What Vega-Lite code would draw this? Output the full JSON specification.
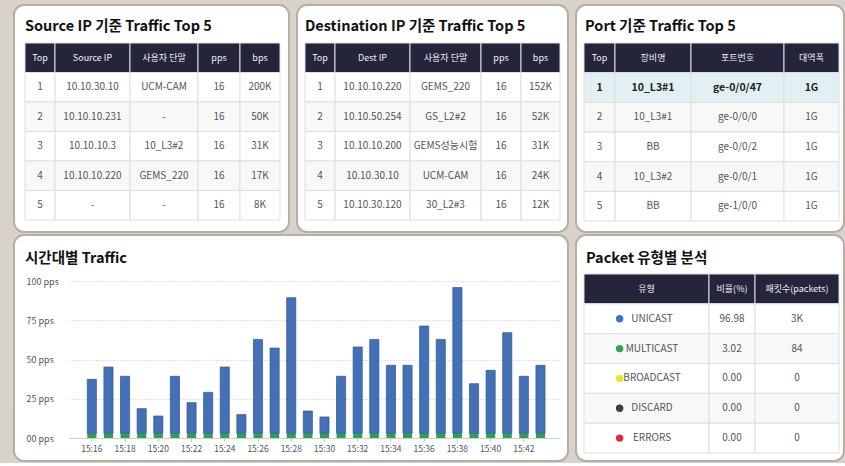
{
"$schema": "https://vega.github.io/schema/vega-lite/v6.json",
"background": "#d9d2cb",
"padding": {"left": 13, "top": 4, "right": 1, "bottom": 1},
"config": {
  "font": "Noto Sans CJK KR",
  "view": {"fill": "white", "stroke": "#b7aea4", "strokeWidth": 2, "cornerRadius": 10},
  "title": {"anchor": "start", "fontSize": 14.5, "fontWeight": "bold", "color": "#111111", "offset": -29, "baseline": "alphabetic", "frame": "group"}
},
"datasets": {
  "src": [
    {"r":"h","c":1,"t":"Top"},{"r":"h","c":2,"t":"Source IP"},{"r":"h","c":3,"t":"사용자 단말"},{"r":"h","c":4,"t":"pps"},{"r":"h","c":5,"t":"bps"},
    {"r":"1","c":1,"t":"1"},{"r":"1","c":2,"t":"10.10.30.10"},{"r":"1","c":3,"t":"UCM-CAM"},{"r":"1","c":4,"t":"16"},{"r":"1","c":5,"t":"200K"},
    {"r":"2","c":1,"t":"2"},{"r":"2","c":2,"t":"10.10.10.231"},{"r":"2","c":3,"t":"-"},{"r":"2","c":4,"t":"16"},{"r":"2","c":5,"t":"50K"},
    {"r":"3","c":1,"t":"3"},{"r":"3","c":2,"t":"10.10.10.3"},{"r":"3","c":3,"t":"10_L3#2"},{"r":"3","c":4,"t":"16"},{"r":"3","c":5,"t":"31K"},
    {"r":"4","c":1,"t":"4"},{"r":"4","c":2,"t":"10.10.10.220"},{"r":"4","c":3,"t":"GEMS_220"},{"r":"4","c":4,"t":"16"},{"r":"4","c":5,"t":"17K"},
    {"r":"5","c":1,"t":"5"},{"r":"5","c":2,"t":"-"},{"r":"5","c":3,"t":"-"},{"r":"5","c":4,"t":"16"},{"r":"5","c":5,"t":"8K"}
  ],
  "dst": [
    {"r":"h","c":1,"t":"Top"},{"r":"h","c":2,"t":"Dest IP"},{"r":"h","c":3,"t":"사용자 단말"},{"r":"h","c":4,"t":"pps"},{"r":"h","c":5,"t":"bps"},
    {"r":"1","c":1,"t":"1"},{"r":"1","c":2,"t":"10.10.10.220"},{"r":"1","c":3,"t":"GEMS_220"},{"r":"1","c":4,"t":"16"},{"r":"1","c":5,"t":"152K"},
    {"r":"2","c":1,"t":"2"},{"r":"2","c":2,"t":"10.10.50.254"},{"r":"2","c":3,"t":"GS_L2#2"},{"r":"2","c":4,"t":"16"},{"r":"2","c":5,"t":"52K"},
    {"r":"3","c":1,"t":"3"},{"r":"3","c":2,"t":"10.10.10.200"},{"r":"3","c":3,"t":"GEMS성능시험"},{"r":"3","c":4,"t":"16"},{"r":"3","c":5,"t":"31K"},
    {"r":"4","c":1,"t":"4"},{"r":"4","c":2,"t":"10.10.30.10"},{"r":"4","c":3,"t":"UCM-CAM"},{"r":"4","c":4,"t":"16"},{"r":"4","c":5,"t":"24K"},
    {"r":"5","c":1,"t":"5"},{"r":"5","c":2,"t":"10.10.30.120"},{"r":"5","c":3,"t":"30_L2#3"},{"r":"5","c":4,"t":"16"},{"r":"5","c":5,"t":"12K"}
  ],
  "port": [
    {"r":"h","c":1,"t":"Top"},{"r":"h","c":2,"t":"장비명"},{"r":"h","c":3,"t":"포트번호"},{"r":"h","c":4,"t":"대역폭"},
    {"r":"1","c":1,"t":"1"},{"r":"1","c":2,"t":"10_L3#1"},{"r":"1","c":3,"t":"ge-0/0/47"},{"r":"1","c":4,"t":"1G"},
    {"r":"2","c":1,"t":"2"},{"r":"2","c":2,"t":"10_L3#1"},{"r":"2","c":3,"t":"ge-0/0/0"},{"r":"2","c":4,"t":"1G"},
    {"r":"3","c":1,"t":"3"},{"r":"3","c":2,"t":"BB"},{"r":"3","c":3,"t":"ge-0/0/2"},{"r":"3","c":4,"t":"1G"},
    {"r":"4","c":1,"t":"4"},{"r":"4","c":2,"t":"10_L3#2"},{"r":"4","c":3,"t":"ge-0/0/1"},{"r":"4","c":4,"t":"1G"},
    {"r":"5","c":1,"t":"5"},{"r":"5","c":2,"t":"BB"},{"r":"5","c":3,"t":"ge-1/0/0"},{"r":"5","c":4,"t":"1G"}
  ],
  "pkt": [
    {"r":"h","c":1,"t":"유형"},{"r":"h","c":2,"t":"비율(%)"},{"r":"h","c":3,"t":"패킷수(packets)"},
    {"r":"1","c":1,"t":"UNICAST"},{"r":"1","c":2,"t":"96.98"},{"r":"1","c":3,"t":"3K"},
    {"r":"2","c":1,"t":"MULTICAST"},{"r":"2","c":2,"t":"3.02"},{"r":"2","c":3,"t":"84"},
    {"r":"3","c":1,"t":"BROADCAST"},{"r":"3","c":2,"t":"0.00"},{"r":"3","c":3,"t":"0"},
    {"r":"4","c":1,"t":"DISCARD"},{"r":"4","c":2,"t":"0.00"},{"r":"4","c":3,"t":"0"},
    {"r":"5","c":1,"t":"ERRORS"},{"r":"5","c":2,"t":"0.00"},{"r":"5","c":3,"t":"0"}
  ],
  "traffic": [
    {"t":"15:16","k":"MULTICAST","v":3},{"t":"15:16","k":"UNICAST","v":34.4},
    {"t":"15:17","k":"MULTICAST","v":3},{"t":"15:17","k":"UNICAST","v":42.2},
    {"t":"15:18","k":"MULTICAST","v":3},{"t":"15:18","k":"UNICAST","v":36.3},
    {"t":"15:19","k":"MULTICAST","v":3},{"t":"15:19","k":"UNICAST","v":15.7},
    {"t":"15:20","k":"MULTICAST","v":3},{"t":"15:20","k":"UNICAST","v":11},
    {"t":"15:21","k":"MULTICAST","v":3},{"t":"15:21","k":"UNICAST","v":36.3},
    {"t":"15:22","k":"MULTICAST","v":3},{"t":"15:22","k":"UNICAST","v":19.5},
    {"t":"15:23","k":"MULTICAST","v":3},{"t":"15:23","k":"UNICAST","v":26.1},
    {"t":"15:24","k":"MULTICAST","v":3},{"t":"15:24","k":"UNICAST","v":42.2},
    {"t":"15:25","k":"MULTICAST","v":3},{"t":"15:25","k":"UNICAST","v":11.9},
    {"t":"15:26","k":"MULTICAST","v":3},{"t":"15:26","k":"UNICAST","v":59.8},
    {"t":"15:27","k":"MULTICAST","v":3},{"t":"15:27","k":"UNICAST","v":54.3},
    {"t":"15:28","k":"MULTICAST","v":3},{"t":"15:28","k":"UNICAST","v":86.4},
    {"t":"15:29","k":"MULTICAST","v":3},{"t":"15:29","k":"UNICAST","v":14.2},
    {"t":"15:30","k":"MULTICAST","v":3},{"t":"15:30","k":"UNICAST","v":10.4},
    {"t":"15:31","k":"MULTICAST","v":3},{"t":"15:31","k":"UNICAST","v":36.3},
    {"t":"15:32","k":"MULTICAST","v":3},{"t":"15:32","k":"UNICAST","v":55},
    {"t":"15:33","k":"MULTICAST","v":3},{"t":"15:33","k":"UNICAST","v":59.8},
    {"t":"15:34","k":"MULTICAST","v":3},{"t":"15:34","k":"UNICAST","v":43.3},
    {"t":"15:35","k":"MULTICAST","v":3},{"t":"15:35","k":"UNICAST","v":43.3},
    {"t":"15:36","k":"MULTICAST","v":3},{"t":"15:36","k":"UNICAST","v":68.3},
    {"t":"15:37","k":"MULTICAST","v":3},{"t":"15:37","k":"UNICAST","v":59.8},
    {"t":"15:38","k":"MULTICAST","v":3},{"t":"15:38","k":"UNICAST","v":92.8},
    {"t":"15:39","k":"MULTICAST","v":3},{"t":"15:39","k":"UNICAST","v":31.6},
    {"t":"15:40","k":"MULTICAST","v":3},{"t":"15:40","k":"UNICAST","v":40.1},
    {"t":"15:41","k":"MULTICAST","v":3},{"t":"15:41","k":"UNICAST","v":64.1},
    {"t":"15:42","k":"MULTICAST","v":3},{"t":"15:42","k":"UNICAST","v":36.3},
    {"t":"15:43","k":"MULTICAST","v":3},{"t":"15:43","k":"UNICAST","v":43.3}
  ]
},
"spacing": 1,
"bounds": "full",
"resolve": {"scale": {"color": "independent"}, "legend": {"color": "independent"}},
"vconcat": [
 {"hconcat": [
  {"width": 275, "height": 227,
   "title": {"text": "Source IP 기준 Traffic Top 5", "dx": 11},
   "data": {"name": "src"},
   "resolve": {"scale": {"x": "independent"}},
   "encoding": {
     "y": {"field": "r", "type": "nominal", "scale": {"domain": ["h","1","2","3","4","5"], "range": [38, 215], "paddingInner": 0, "paddingOuter": 0}, "axis": null}
   },
   "layer": [
    {"transform": [{"filter": "datum.c==1"}], "mark": {"type": "rect", "stroke": "#dedede", "strokeWidth": 1},
     "encoding": {"x": {"datum": 1, "type": "quantitative", "scale": {"domain": [1,2,3,4,5,6], "range": [11,41,116,184,226,266], "nice": false, "zero": false}, "axis": null}, "x2": {"datum": 2},
       "fill": {"condition": [{"test": "datum.r==='h'", "value": "#24243a"}, {"test": "datum.r==='2'||datum.r==='4'", "value": "#f8f8f8"}], "value": "#ffffff"}}},
    {"transform": [{"filter": "datum.c==2"}], "mark": {"type": "rect", "stroke": "#dedede", "strokeWidth": 1},
     "encoding": {"x": {"datum": 2, "type": "quantitative", "scale": {"domain": [1,2,3,4,5,6], "range": [11,41,116,184,226,266], "nice": false, "zero": false}, "axis": null}, "x2": {"datum": 3},
       "fill": {"condition": [{"test": "datum.r==='h'", "value": "#24243a"}, {"test": "datum.r==='2'||datum.r==='4'", "value": "#f8f8f8"}], "value": "#ffffff"}}},
    {"transform": [{"filter": "datum.c==3"}], "mark": {"type": "rect", "stroke": "#dedede", "strokeWidth": 1},
     "encoding": {"x": {"datum": 3, "type": "quantitative", "scale": {"domain": [1,2,3,4,5,6], "range": [11,41,116,184,226,266], "nice": false, "zero": false}, "axis": null}, "x2": {"datum": 4},
       "fill": {"condition": [{"test": "datum.r==='h'", "value": "#24243a"}, {"test": "datum.r==='2'||datum.r==='4'", "value": "#f8f8f8"}], "value": "#ffffff"}}},
    {"transform": [{"filter": "datum.c==4"}], "mark": {"type": "rect", "stroke": "#dedede", "strokeWidth": 1},
     "encoding": {"x": {"datum": 4, "type": "quantitative", "scale": {"domain": [1,2,3,4,5,6], "range": [11,41,116,184,226,266], "nice": false, "zero": false}, "axis": null}, "x2": {"datum": 5},
       "fill": {"condition": [{"test": "datum.r==='h'", "value": "#24243a"}, {"test": "datum.r==='2'||datum.r==='4'", "value": "#f8f8f8"}], "value": "#ffffff"}}},
    {"transform": [{"filter": "datum.c==5"}], "mark": {"type": "rect", "stroke": "#dedede", "strokeWidth": 1},
     "encoding": {"x": {"datum": 5, "type": "quantitative", "scale": {"domain": [1,2,3,4,5,6], "range": [11,41,116,184,226,266], "nice": false, "zero": false}, "axis": null}, "x2": {"datum": 6},
       "fill": {"condition": [{"test": "datum.r==='h'", "value": "#24243a"}, {"test": "datum.r==='2'||datum.r==='4'", "value": "#f8f8f8"}], "value": "#ffffff"}}},
    {"mark": {"type": "text"},
     "encoding": {"x": {"field": "c", "type": "quantitative", "scale": {"domain": [1,2,3,4,5], "range": [26,78.5,150,205,246], "nice": false, "zero": false}, "axis": null},
       "text": {"field": "t"},
       "size": {"condition": {"test": "datum.r==='h'", "value": 9}, "value": 10},
       "color": {"condition": {"test": "datum.r==='h'", "value": "#f2f2f2"}, "value": "#555555"}}}
   ]},
  {"width": 271, "height": 227,
   "title": {"text": "Destination IP 기준 Traffic Top 5", "dx": 8},
   "data": {"name": "dst"},
   "resolve": {"scale": {"x": "independent"}},
   "encoding": {
     "y": {"field": "r", "type": "nominal", "scale": {"domain": ["h","1","2","3","4","5"], "range": [38, 215], "paddingInner": 0, "paddingOuter": 0}, "axis": null}
   },
   "layer": [
    {"transform": [{"filter": "datum.c==1"}], "mark": {"type": "rect", "stroke": "#dedede", "strokeWidth": 1},
     "encoding": {"x": {"datum": 1, "type": "quantitative", "scale": {"domain": [1,2,3,4,5,6], "range": [8,38,113,184,224,263], "nice": false, "zero": false}, "axis": null}, "x2": {"datum": 2},
       "fill": {"condition": [{"test": "datum.r==='h'", "value": "#24243a"}, {"test": "datum.r==='2'||datum.r==='4'", "value": "#f8f8f8"}], "value": "#ffffff"}}},
    {"transform": [{"filter": "datum.c==2"}], "mark": {"type": "rect", "stroke": "#dedede", "strokeWidth": 1},
     "encoding": {"x": {"datum": 2, "type": "quantitative", "scale": {"domain": [1,2,3,4,5,6], "range": [8,38,113,184,224,263], "nice": false, "zero": false}, "axis": null}, "x2": {"datum": 3},
       "fill": {"condition": [{"test": "datum.r==='h'", "value": "#24243a"}, {"test": "datum.r==='2'||datum.r==='4'", "value": "#f8f8f8"}], "value": "#ffffff"}}},
    {"transform": [{"filter": "datum.c==3"}], "mark": {"type": "rect", "stroke": "#dedede", "strokeWidth": 1},
     "encoding": {"x": {"datum": 3, "type": "quantitative", "scale": {"domain": [1,2,3,4,5,6], "range": [8,38,113,184,224,263], "nice": false, "zero": false}, "axis": null}, "x2": {"datum": 4},
       "fill": {"condition": [{"test": "datum.r==='h'", "value": "#24243a"}, {"test": "datum.r==='2'||datum.r==='4'", "value": "#f8f8f8"}], "value": "#ffffff"}}},
    {"transform": [{"filter": "datum.c==4"}], "mark": {"type": "rect", "stroke": "#dedede", "strokeWidth": 1},
     "encoding": {"x": {"datum": 4, "type": "quantitative", "scale": {"domain": [1,2,3,4,5,6], "range": [8,38,113,184,224,263], "nice": false, "zero": false}, "axis": null}, "x2": {"datum": 5},
       "fill": {"condition": [{"test": "datum.r==='h'", "value": "#24243a"}, {"test": "datum.r==='2'||datum.r==='4'", "value": "#f8f8f8"}], "value": "#ffffff"}}},
    {"transform": [{"filter": "datum.c==5"}], "mark": {"type": "rect", "stroke": "#dedede", "strokeWidth": 1},
     "encoding": {"x": {"datum": 5, "type": "quantitative", "scale": {"domain": [1,2,3,4,5,6], "range": [8,38,113,184,224,263], "nice": false, "zero": false}, "axis": null}, "x2": {"datum": 6},
       "fill": {"condition": [{"test": "datum.r==='h'", "value": "#24243a"}, {"test": "datum.r==='2'||datum.r==='4'", "value": "#f8f8f8"}], "value": "#ffffff"}}},
    {"mark": {"type": "text"},
     "encoding": {"x": {"field": "c", "type": "quantitative", "scale": {"domain": [1,2,3,4,5], "range": [23,75.5,148.5,204,243.5], "nice": false, "zero": false}, "axis": null},
       "text": {"field": "t"},
       "size": {"condition": {"test": "datum.r==='h'", "value": 9}, "value": 10},
       "color": {"condition": {"test": "datum.r==='h'", "value": "#f2f2f2"}, "value": "#555555"}}}
   ]},
  {"width": 268, "height": 227,
   "title": {"text": "Port 기준 Traffic Top 5", "dx": 9},
   "data": {"name": "port"},
   "resolve": {"scale": {"x": "independent"}},
   "encoding": {
     "y": {"field": "r", "type": "nominal", "scale": {"domain": ["h","1","2","3","4","5"], "range": [38, 216], "paddingInner": 0, "paddingOuter": 0}, "axis": null}
   },
   "layer": [
    {"transform": [{"filter": "datum.c==1"}], "mark": {"type": "rect", "stroke": "#dedede", "strokeWidth": 1},
     "encoding": {"x": {"datum": 1, "type": "quantitative", "scale": {"domain": [1,2,3,4,5], "range": [8,39,115,208,263], "nice": false, "zero": false}, "axis": null}, "x2": {"datum": 2},
       "fill": {"condition": [{"test": "datum.r==='h'", "value": "#24243a"}, {"test": "datum.r==='1'", "value": "#e2f0f4"}, {"test": "datum.r==='2'||datum.r==='4'", "value": "#f8f8f8"}], "value": "#ffffff"}}},
    {"transform": [{"filter": "datum.c==2"}], "mark": {"type": "rect", "stroke": "#dedede", "strokeWidth": 1},
     "encoding": {"x": {"datum": 2, "type": "quantitative", "scale": {"domain": [1,2,3,4,5], "range": [8,39,115,208,263], "nice": false, "zero": false}, "axis": null}, "x2": {"datum": 3},
       "fill": {"condition": [{"test": "datum.r==='h'", "value": "#24243a"}, {"test": "datum.r==='1'", "value": "#e2f0f4"}, {"test": "datum.r==='2'||datum.r==='4'", "value": "#f8f8f8"}], "value": "#ffffff"}}},
    {"transform": [{"filter": "datum.c==3"}], "mark": {"type": "rect", "stroke": "#dedede", "strokeWidth": 1},
     "encoding": {"x": {"datum": 3, "type": "quantitative", "scale": {"domain": [1,2,3,4,5], "range": [8,39,115,208,263], "nice": false, "zero": false}, "axis": null}, "x2": {"datum": 4},
       "fill": {"condition": [{"test": "datum.r==='h'", "value": "#24243a"}, {"test": "datum.r==='1'", "value": "#e2f0f4"}, {"test": "datum.r==='2'||datum.r==='4'", "value": "#f8f8f8"}], "value": "#ffffff"}}},
    {"transform": [{"filter": "datum.c==4"}], "mark": {"type": "rect", "stroke": "#dedede", "strokeWidth": 1},
     "encoding": {"x": {"datum": 4, "type": "quantitative", "scale": {"domain": [1,2,3,4,5], "range": [8,39,115,208,263], "nice": false, "zero": false}, "axis": null}, "x2": {"datum": 5},
       "fill": {"condition": [{"test": "datum.r==='h'", "value": "#24243a"}, {"test": "datum.r==='1'", "value": "#e2f0f4"}, {"test": "datum.r==='2'||datum.r==='4'", "value": "#f8f8f8"}], "value": "#ffffff"}}},
    {"transform": [{"filter": "datum.r!=='1'"}], "mark": {"type": "text"},
     "encoding": {"x": {"field": "c", "type": "quantitative", "scale": {"domain": [1,2,3,4], "range": [23.5,77,161.5,235.5], "nice": false, "zero": false}, "axis": null},
       "text": {"field": "t"},
       "size": {"condition": {"test": "datum.r==='h'", "value": 9}, "value": 10},
       "color": {"condition": {"test": "datum.r==='h'", "value": "#f2f2f2"}, "value": "#555555"}}},
    {"transform": [{"filter": "datum.r==='1'"}], "mark": {"type": "text", "fontWeight": "bold", "fontSize": 10.5, "color": "#222222"},
     "encoding": {"x": {"field": "c", "type": "quantitative", "scale": {"domain": [1,2,3,4], "range": [23.5,77,161.5,235.5], "nice": false, "zero": false}, "axis": null},
       "text": {"field": "t"}}}
   ]}
 ], "spacing": 8, "bounds": "flush"},
 {"hconcat": [
  {"width": 554, "height": 226,
   "title": {"text": "시간대별 Traffic", "dx": 11, "offset": -31},
   "data": {"name": "traffic"},
   "mark": {"type": "bar", "strokeWidth": 0.7},
   "encoding": {
     "x": {"field": "t", "type": "nominal", "sort": null,
       "scale": {"range": [55, 546], "paddingInner": 0.45, "paddingOuter": 1.2, "align": 0.55},
       "axis": {"values": ["15:16","15:18","15:20","15:22","15:24","15:26","15:28","15:30","15:32","15:34","15:36","15:38","15:40","15:42"],
         "labelAngle": 0, "offset": -23, "domainColor": "#cfcfcf", "tickColor": "#bdbdbd", "tickSize": 3, "labelFontSize": 8.5, "labelColor": "#555555", "labelPadding": 3, "title": null, "grid": false}},
     "y": {"field": "v", "type": "quantitative", "stack": "zero",
       "scale": {"domain": [0, 100], "range": [203, 46], "nice": false},
       "axis": {"values": [0, 25, 50, 75, 100], "labelExpr": "datum.value == 0 ? '00 pps' : datum.value + ' pps'", "grid": true, "gridDash": [1, 2], "gridColor": "#c4c4c4",
         "domain": false, "ticks": false, "labelAlign": "left", "labelPadding": -12, "labelFontSize": 9, "labelColor": "#555555", "title": null}},
     "color": {"field": "k", "type": "nominal", "scale": {"domain": ["MULTICAST", "UNICAST"], "range": ["#2f9e57", "#4471b6"]}, "legend": null},
     "stroke": {"condition": {"test": "datum.k==='UNICAST'", "value": "#2f5590"}, "value": null},
     "order": {"field": "k", "sort": "ascending"}
   }},
  {"width": 268, "height": 226,
   "title": {"text": "Packet 유형별 분석", "dx": 10, "offset": -31},
   "data": {"name": "pkt"},
   "resolve": {"scale": {"x": "independent"}},
   "encoding": {
     "y": {"field": "r", "type": "nominal", "scale": {"domain": ["h","1","2","3","4","5"], "range": [39, 218], "paddingInner": 0, "paddingOuter": 0}, "axis": null}
   },
   "layer": [
    {"transform": [{"filter": "datum.c==1"}], "mark": {"type": "rect", "stroke": "#dedede", "strokeWidth": 1},
     "encoding": {"x": {"datum": 1, "type": "quantitative", "scale": {"domain": [1,2,3,4], "range": [8,133,179,263], "nice": false, "zero": false}, "axis": null}, "x2": {"datum": 2},
       "fill": {"condition": [{"test": "datum.r==='h'", "value": "#24243a"}, {"test": "datum.r==='2'||datum.r==='4'", "value": "#f8f8f8"}], "value": "#ffffff"}}},
    {"transform": [{"filter": "datum.c==2"}], "mark": {"type": "rect", "stroke": "#dedede", "strokeWidth": 1},
     "encoding": {"x": {"datum": 2, "type": "quantitative", "scale": {"domain": [1,2,3,4], "range": [8,133,179,263], "nice": false, "zero": false}, "axis": null}, "x2": {"datum": 3},
       "fill": {"condition": [{"test": "datum.r==='h'", "value": "#24243a"}, {"test": "datum.r==='2'||datum.r==='4'", "value": "#f8f8f8"}], "value": "#ffffff"}}},
    {"transform": [{"filter": "datum.c==3"}], "mark": {"type": "rect", "stroke": "#dedede", "strokeWidth": 1},
     "encoding": {"x": {"datum": 3, "type": "quantitative", "scale": {"domain": [1,2,3,4], "range": [8,133,179,263], "nice": false, "zero": false}, "axis": null}, "x2": {"datum": 4},
       "fill": {"condition": [{"test": "datum.r==='h'", "value": "#24243a"}, {"test": "datum.r==='2'||datum.r==='4'", "value": "#f8f8f8"}], "value": "#ffffff"}}},
    {"transform": [{"filter": "!(datum.c==1 && datum.r!=='h')"}], "mark": {"type": "text"},
     "encoding": {"x": {"field": "c", "type": "quantitative", "scale": {"domain": [1,2,3], "range": [70.5,156,221], "nice": false, "zero": false}, "axis": null},
       "text": {"field": "t"},
       "size": {"condition": {"test": "datum.r==='h'", "value": 9}, "value": 10},
       "color": {"condition": {"test": "datum.r==='h'", "value": "#f2f2f2"}, "value": "#555555"}}},
    {"transform": [{"filter": "datum.c==1 && datum.r!=='h'"}], "mark": {"type": "text", "dx": 5.5, "fontSize": 10, "color": "#555555"},
     "encoding": {"x": {"field": "c", "type": "quantitative", "scale": {"domain": [1,2,3], "range": [70.5,156,221], "nice": false, "zero": false}, "axis": null},
       "text": {"field": "t"}}},
    {"transform": [{"filter": "datum.c==1 && datum.r!=='h'"}], "mark": {"type": "point", "filled": true, "size": 55, "opacity": 1},
     "encoding": {"x": {"datum": 1.285, "type": "quantitative", "scale": {"domain": [1,2,3,4], "range": [8,133,179,263], "nice": false, "zero": false}, "axis": null},
       "color": {"field": "t", "type": "nominal", "scale": {"domain": ["UNICAST","MULTICAST","BROADCAST","DISCARD","ERRORS"], "range": ["#3b73c5","#2fa55c","#ede433","#3d3d3d","#d62f3d"]}, "legend": null}}}
   ]}
 ], "spacing": 8, "bounds": "flush", "resolve": {"scale": {"color": "independent"}, "legend": {"color": "independent"}}}
]
}
